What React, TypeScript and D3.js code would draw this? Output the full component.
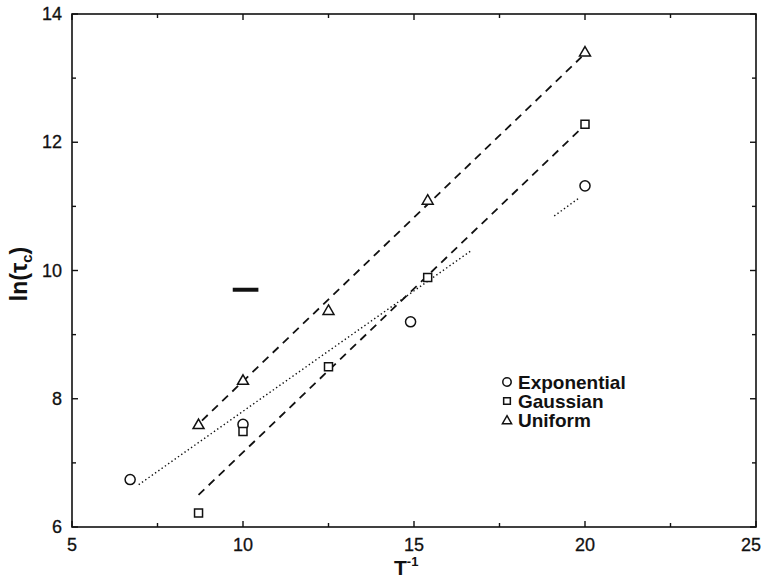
import React, { useEffect, useRef } from "react";
import * as d3 from "d3";

interface Pt {
  x: number;
  y: number;
}

// measured points, ln(tau_c) vs 1/T
const exponential: Pt[] = [
  { x: 6.7, y: 6.74 },
  { x: 10, y: 7.6 },
  { x: 14.9, y: 9.2 },
  { x: 20, y: 11.32 },
];
const gaussian: Pt[] = [
  { x: 8.7, y: 6.22 },
  { x: 10, y: 7.49 },
  { x: 12.5, y: 8.5 },
  { x: 15.4, y: 9.89 },
  { x: 20, y: 12.28 },
];
const uniform: Pt[] = [
  { x: 8.7, y: 7.6 },
  { x: 10, y: 8.29 },
  { x: 12.5, y: 9.38 },
  { x: 15.4, y: 11.1 },
  { x: 20, y: 13.41 },
];

// fitted lines
const uniformFit: Pt[] = [
  { x: 8.8, y: 7.66 },
  { x: 19.9, y: 13.33 },
];
const gaussianFit: Pt[] = [
  { x: 8.7, y: 6.5 },
  { x: 19.9, y: 12.22 },
];
const exponentialFit: Pt[] = [
  { x: 6.95, y: 6.66 },
  { x: 16.7, y: 10.32 },
];
const exponentialFit2: Pt[] = [
  { x: 19.1, y: 10.85 },
  { x: 19.85, y: 11.14 },
];
// the dark smudge left of x=10
const smudge: Pt[] = [
  { x: 9.7, y: 9.7 },
  { x: 10.45, y: 9.7 },
];

const xTicks = [5, 10, 15, 20, 25];
const xMinor = [7.5, 12.5, 17.5, 22.5];
const yTicks = [6, 8, 10, 12, 14];
const yMinor = [7, 9, 11, 13];
const legendItems = ["Exponential", "Gaussian", "Uniform"];
const legendSymbols = ["circle", "square", "triangle"];

export default function App() {
  const svgRef = useRef<SVGSVGElement>(null);

  useEffect(() => {
    document.body.style.margin = "0";
    if (!svgRef.current) return;
    const svg = d3.select(svgRef.current);
    svg.selectAll("*").remove();

    const width = 762;
    const height = 580;
    const left = 72;
    const right = 756;
    const top = 14;
    const bottom = 527;
    const font = "'Liberation Sans', Arial, sans-serif";

    svg.attr("width", width).attr("height", height);
    svg.append("rect").attr("width", width).attr("height", height).attr("fill", "#fff");

    const x = d3.scaleLinear().domain([5, 25]).range([left, right]);
    const y = d3.scaleLinear().domain([6, 14]).range([bottom, top]);

    // frame
    svg
      .append("rect")
      .attr("x", left)
      .attr("y", top)
      .attr("width", right - left)
      .attr("height", bottom - top)
      .attr("fill", "none")
      .attr("stroke", "#111")
      .attr("stroke-width", 1.6);

    // ticks (inward, all four sides)
    const g = svg.append("g").attr("stroke", "#111").attr("stroke-width", 1.4);
    const tickX = (v: number, len: number) => {
      g.append("line").attr("x1", x(v)).attr("x2", x(v)).attr("y1", bottom).attr("y2", bottom - len);
      g.append("line").attr("x1", x(v)).attr("x2", x(v)).attr("y1", top).attr("y2", top + len);
    };
    const tickY = (v: number, len: number) => {
      g.append("line").attr("y1", y(v)).attr("y2", y(v)).attr("x1", left).attr("x2", left + len);
      g.append("line").attr("y1", y(v)).attr("y2", y(v)).attr("x1", right).attr("x2", right - len);
    };
    xTicks.forEach((v) => tickX(v, 6));
    xMinor.forEach((v) => tickX(v, 4));
    yTicks.forEach((v) => tickY(v, 6));
    yMinor.forEach((v) => tickY(v, 4));

    // tick labels
    xTicks.forEach((v, i) => {
      const last = i === xTicks.length - 1;
      svg
        .append("text")
        .attr("x", last ? width - 1 : x(v))
        .attr("y", bottom + 24)
        .attr("text-anchor", last ? "end" : "middle")
        .style("font-family", font)
        .style("font-size", "18px")
        .style("fill", "#111")
        .style("stroke", "#111")
        .style("stroke-width", 0.3)
        .text(v);
    });
    yTicks.forEach((v) => {
      svg
        .append("text")
        .attr("x", left - 10)
        .attr("y", y(v) + 6)
        .attr("text-anchor", "end")
        .style("font-family", font)
        .style("font-size", "18px")
        .style("fill", "#111")
        .style("stroke", "#111")
        .style("stroke-width", 0.3)
        .text(v);
    });

    // axis titles
    const xt = svg
      .append("text")
      .attr("x", 394)
      .attr("y", 575)
      .style("font-family", font)
      .style("font-size", "21px")
      .style("font-weight", "bold")
      .style("fill", "#111");
    xt.append("tspan").text("T");
    xt.append("tspan").attr("dy", -9).style("font-size", "13px").text("-1");

    const yt = svg
      .append("text")
      .attr("transform", `translate(27, 274) rotate(-90)`)
      .attr("text-anchor", "middle")
      .style("font-family", font)
      .style("font-size", "23px")
      .style("font-weight", "bold")
      .style("fill", "#111");
    yt.append("tspan").text("ln(τ");
    yt.append("tspan").attr("dy", 5).style("font-size", "15px").text("c");
    yt.append("tspan").attr("dy", -5).text(")");

    // fit lines
    const line = d3
      .line<Pt>()
      .x((d) => x(d.x))
      .y((d) => y(d.y));
    const drawLine = (pts: Pt[], dash: string, w: number) =>
      svg
        .append("path")
        .datum(pts)
        .attr("d", line)
        .attr("fill", "none")
        .attr("stroke", "#111")
        .attr("stroke-width", w)
        .attr("stroke-dasharray", dash);
    drawLine(uniformFit, "8,6", 1.8);
    drawLine(gaussianFit, "8,6", 1.8);
    drawLine(exponentialFit, "1.4,2.6", 1.4);
    drawLine(exponentialFit2, "1.4,2.6", 1.4);
    drawLine(smudge, "", 4);

    // markers
    const symbols: { [k: string]: d3.SymbolType } = {
      circle: d3.symbolCircle,
      square: d3.symbolSquare,
      triangle: d3.symbolTriangle,
    };
    const sizes: { [k: string]: number } = { circle: 80, square: 64, triangle: 52 };
    const drawMarker = (px: number, py: number, kind: string, scale = 1) =>
      svg
        .append("path")
        .attr("d", d3.symbol().type(symbols[kind]).size(sizes[kind] * scale)())
        .attr("transform", `translate(${px},${py + (kind === "triangle" ? 1 : 0)})`)
        .attr("fill", "#fff")
        .attr("stroke", "#111")
        .attr("stroke-width", 1.5);

    exponential.forEach((d) => drawMarker(x(d.x), y(d.y), "circle"));
    gaussian.forEach((d) => drawMarker(x(d.x), y(d.y), "square"));
    uniform.forEach((d) => drawMarker(x(d.x), y(d.y), "triangle"));

    // legend
    legendItems.forEach((name, i) => {
      const ly = 382 + i * 19;
      drawMarker(507, ly, legendSymbols[i], 0.7);
      svg
        .append("text")
        .attr("x", 518)
        .attr("y", ly + 7)
        .style("font-family", font)
        .style("font-size", "19px")
        .style("font-weight", "bold")
        .style("fill", "#111")
        .text(name);
    });
  }, []);

  return <svg ref={svgRef} style={{ display: "block" }} />;
}
